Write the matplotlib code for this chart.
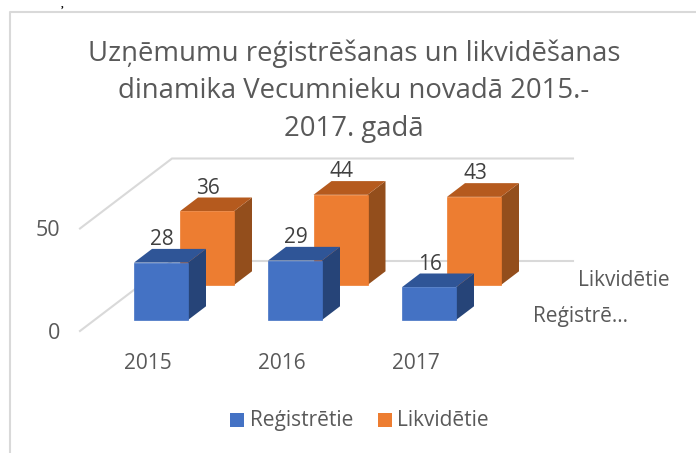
#!/usr/bin/env python3
# 3D-looking clustered columns, drawn as flat polygons in pixel space
import matplotlib.pyplot as plt
from matplotlib.patches import Polygon, Rectangle

plt.rcParams['font.family'] = ['Open Sans', 'DejaVu Sans']

years = ["2015", "2016", "2017"]
registered = [28, 29, 16]
liquidated = [36, 44, 43]
series_names = ["Reģistrētie", "Likvidētie"]
axis_ticks = [0, 50]
title = "Uzņēmumu reģistrēšanas un likvidēšanas\ndinamika Vecumnieku novadā 2015.-\n2017. gadā"

BLUE = ('#4472C4', '#2F5597', '#264478')
ORANGE = ('#ED7D31', '#B55A1E', '#934E1C')
GRID = '#D9D9D9'
TEXT = '#595959'
LABEL = '#404040'

PX_PER_UNIT = 2.05
BAR_W = 54
DEPTH_X = 18
DEPTH_Y = 13.7


def draw_bar(ax, left, base, value, colors):
    top = base - value * PX_PER_UNIT
    right = left + BAR_W
    ax.add_patch(Polygon([(right, base), (right + DEPTH_X, base - DEPTH_Y),
                          (right + DEPTH_X, top - DEPTH_Y), (right, top)],
                         facecolor=colors[2], edgecolor='none', zorder=3))
    ax.add_patch(Polygon([(left, top), (right, top),
                          (right + DEPTH_X, top - DEPTH_Y), (left + DEPTH_X, top - DEPTH_Y)],
                         facecolor=colors[1], edgecolor='none', zorder=3))
    ax.add_patch(Rectangle((left, top), BAR_W, base - top, facecolor=colors[0],
                           edgecolor=colors[0], linewidth=0.5, zorder=3))
    ax.text(left + 28, top - 17.5, str(value), ha='center', va='baseline',
            fontsize=15, color=LABEL, zorder=4)


fig = plt.figure(figsize=(6.96, 4.53), dpi=100)
ax = fig.add_axes([0, 0, 1, 1])
ax.set_xlim(0, 696)
ax.set_ylim(453, 0)
ax.axis('off')

# chart frame and stray comma above it
ax.plot([9.5, 9.5, 696], [453, 11.5, 11.5], color=GRID, lw=1.5, zorder=1)
ax.text(62, 7.6, ",", ha='center', va='baseline', fontsize=8, color='black',
        family='Liberation Serif', fontweight='bold')

ax.text(354, 91, title, ha='center', va='center', fontsize=19.8, color=TEXT, linespacing=1.46)

# floor, back wall gridlines
for tick in axis_ticks:
    back_y = 261 - tick * PX_PER_UNIT
    front_y = 331 - tick * PX_PER_UNIT
    ax.plot([80, 172, 573], [front_y, back_y, back_y], color=GRID, lw=1.5, zorder=1,
            solid_joinstyle='miter')
    ax.text(60, front_y + 8, str(tick), ha='right', va='baseline', fontsize=15.5, color=TEXT)

for i, year in enumerate(years):
    draw_bar(ax, 180 + i * 133.5, 285, liquidated[i], ORANGE)
    draw_bar(ax, 134 + i * 134, 320, registered[i], BLUE)
    ax.text(148 + i * 134, 369, year, ha='center', va='baseline', fontsize=15, color=TEXT)

# depth axis labels
ax.text(578, 286.5, series_names[1], ha='left', va='baseline', fontsize=15, color=TEXT)
ax.text(533, 322, series_names[0][:8] + "…", ha='left', va='baseline', fontsize=15, color=TEXT)

# legend
ax.add_patch(Rectangle((229.5, 412.5), 14, 14, facecolor=BLUE[0], edgecolor='none'))
ax.text(250, 426, series_names[0], ha='left', va='baseline', fontsize=15, color=TEXT)
ax.add_patch(Rectangle((377.5, 412.5), 14, 14, facecolor=ORANGE[0], edgecolor='none'))
ax.text(397, 426, series_names[1], ha='left', va='baseline', fontsize=15, color=TEXT)

fig.savefig("out.png", dpi=100)
